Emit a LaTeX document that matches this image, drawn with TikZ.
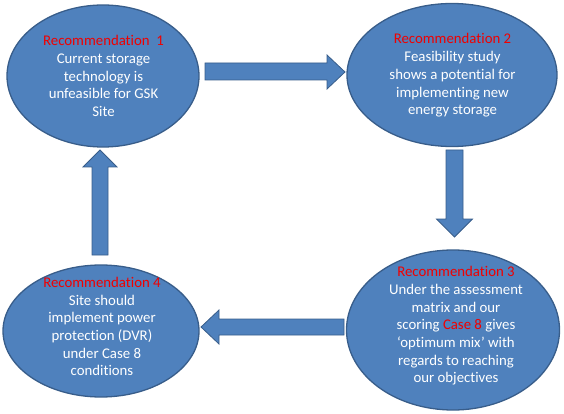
\documentclass[tikz,border=0pt]{standalone}
\usepackage{fontspec}
\setmainfont{Carlito}[Ligatures=NoCommon]
\usetikzlibrary{shapes.geometric}
\definecolor{ofblue}{HTML}{4F81BD}
\definecolor{ofedge}{HTML}{385D8A}
\definecolor{recred}{HTML}{F00000}
\tikzset{
  bubble/.style={ellipse, draw=ofedge, line width=1.3pt, fill=ofblue, inner sep=0pt},
  bubtext/.style={text=white, align=center, inner sep=0pt, font=\fontsize{14.8}{17.7}\selectfont},
  blockarrow/.style={draw=ofedge, line width=0.8pt, fill=ofblue, line join=miter},
}
\begin{document}
\begin{tikzpicture}[x=1pt,y=-1pt]
\useasboundingbox (0,0) rectangle (564,414);
% ellipses
\node[bubble, minimum width=192pt, minimum height=142pt] (e1) at (103,76) {};
\node[bubble, minimum width=210pt, minimum height=143pt] (e2) at (452,75) {};
\node[bubble, minimum width=213pt, minimum height=160pt] (e3) at (453,330) {};
\node[bubble, minimum width=196pt, minimum height=132pt] (e4) at (101,331) {};
% texts
\node[bubtext] (t1) at (103.5,76) {\textcolor{recred}{Recommendation~~1}\\Current storage\\technology is\\unfeasible for GSK\\Site};
\node[bubtext] (t2) at (452.5,75.5) {\textcolor{recred}{Recommendation 2}\\Feasibility study\\shows a potential for\\implementing new\\energy storage};
\node[bubtext] (t3) at (456,326) {\textcolor{recred}{Recommendation 3}\\Under the assessment\\matrix and our\\scoring \textcolor{recred}{Case 8} gives\\‘optimum mix’ with\\regards to reaching\\our objectives};
\node[bubtext] (t4) at (102,326.5) {\textcolor{recred}{Recommendation 4}\\Site should\\implement power\\protection (DVR)\\under Case 8\\conditions};
% block arrows
\draw[blockarrow] (205,63) -- (327,63) -- (327,55) -- (345,72) -- (327,89) -- (327,80) -- (205,80) -- cycle;
\draw[blockarrow] (446,150) -- (463,150) -- (463,219) -- (472.5,219) -- (454.5,237) -- (436.5,219) -- (446,219) -- cycle;
\draw[blockarrow] (344,319) -- (219,319) -- (219,310) -- (201,327) -- (219,344) -- (219,335) -- (344,335) -- cycle;
\draw[blockarrow] (92,255) -- (92,167) -- (83,167) -- (100,150) -- (117,167) -- (108,167) -- (108,255) -- cycle;
\end{tikzpicture}
\end{document}
